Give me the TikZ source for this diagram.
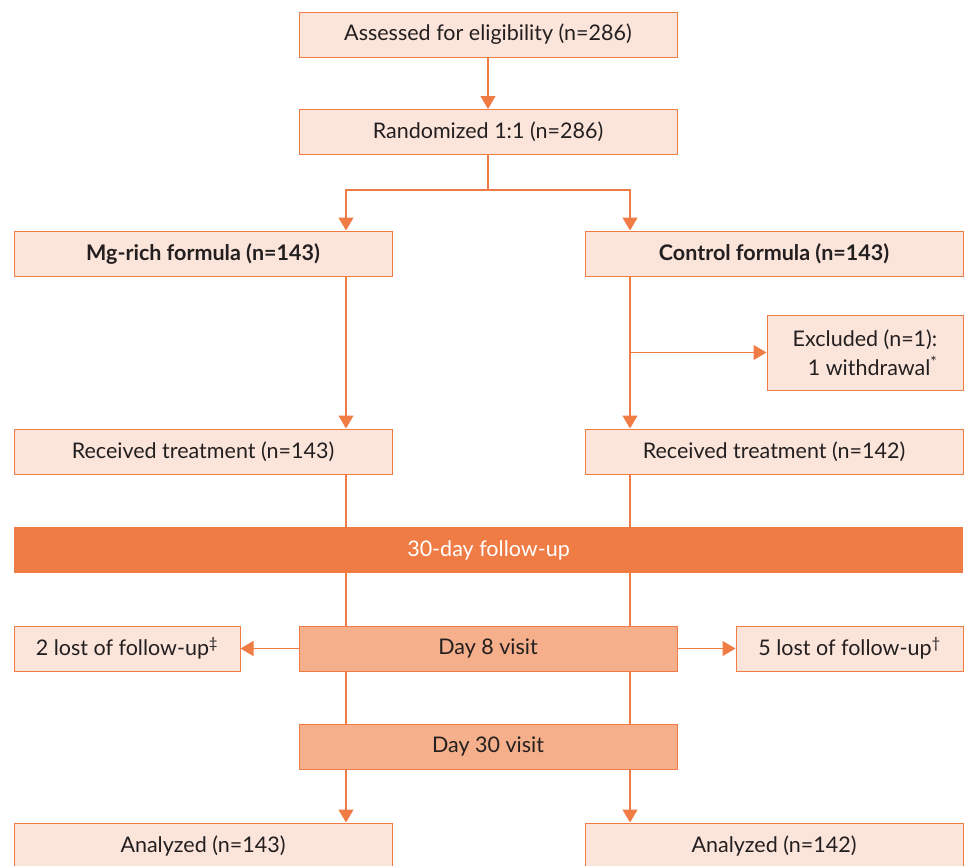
\documentclass[tikz,border=0pt]{standalone}
\usepackage{fontspec}
\setmainfont{Lato}
\usetikzlibrary{arrows.meta,backgrounds}
\definecolor{edge}{HTML}{F07C45}
\definecolor{pale}{HTML}{FBE4D9}
\definecolor{mid}{HTML}{F5AF8A}
\definecolor{ink}{HTML}{231F20}
\begin{document}
\begin{tikzpicture}[x=1pt,y=-1pt,
    box/.style={draw=edge,fill=pale,line width=1pt,minimum width=378pt,minimum height=45pt,
      inner sep=0pt,text=ink,font=\fontsize{21.5}{29}\selectfont},
    visit/.style={box,fill=mid},
    link/.style={draw=edge,line width=1.3pt},
    arr/.style={link,-{Triangle[width=15pt,length=13pt]}}]
    \useasboundingbox (0,0) rectangle (966,865);
    \clip (0,0) rectangle (966,865);
    \coordinate (ml) at (346,0);
    \coordinate (cr) at (630,0);
    \coordinate (split) at (488,190);
    \node[box] (assess) at (488,34.5) {Assessed for eligibility (n=286)};
    \node[box] (rand) at (488,132) {Randomized 1:1 (n=286)};
    \node[box] (mg) at (203,253.5) {\textbf{Mg-rich formula (n=143)}};
    \node[box] (ctrl) at (774,253.5) {\textbf{Control formula (n=143)}};
    \node[box,minimum width=196pt,minimum height=75pt,align=right] (excl) at (865,352.5)
      {Excluded (n=1):\\1 withdrawal\textsuperscript{*}};
    \node[box] (recmg) at (203,451.5) {Received treatment (n=143)};
    \node[box] (recctrl) at (774,451.5) {Received treatment (n=142)};
    \node[box,draw=none,fill=edge,minimum width=949pt,minimum height=46pt,text=white] (follow)
      at (488.5,550) {30-day follow-up};
    \node[visit] (day8) at (488,648.5) {Day 8 visit};
    \node[box,minimum width=226pt] (lostmg) at (127,648.5) {2 lost of follow-up\textsuperscript{\ddag}};
    \node[box,minimum width=227pt] (lostctrl) at (849.5,648.5) {5 lost of follow-up\textsuperscript{\dag}};
    \node[visit] (day30) at (488,746.5) {Day 30 visit};
    \node[box] (anmg) at (203,845.5) {Analyzed (n=143)};
    \node[box] (anctrl) at (774,845.5) {Analyzed (n=142)};
    \draw[arr] (assess) -- (rand);
    \draw[link] (rand) -- (split);
    \draw[arr] (split) -| (mg.north -| ml);
    \draw[arr] (split) -| (ctrl.north -| cr);
    \draw[arr] (mg.south -| ml) -- (recmg.north -| ml);
    \draw[arr] (ctrl.south -| cr) -- (recctrl.north -| cr);
    \draw[arr] (excl.west -| cr) -- (excl.west);
    \draw[arr] (day8) -- (lostmg);
    \draw[arr] (day8) -- (lostctrl);
    \begin{scope}[on background layer]
      \draw[link] (recmg.south -| ml) -- (day8.north -| ml);
      \draw[link] (recctrl.south -| cr) -- (day8.north -| cr);
      \foreach \c in {ml,cr}
      \draw[link] (day8.south -| \c) -- (day30.north -| \c);
    \end{scope}
    \draw[arr] (day30.south -| ml) -- (anmg.north -| ml);
    \draw[arr] (day30.south -| cr) -- (anctrl.north -| cr);
  \end{tikzpicture}
\end{document}
